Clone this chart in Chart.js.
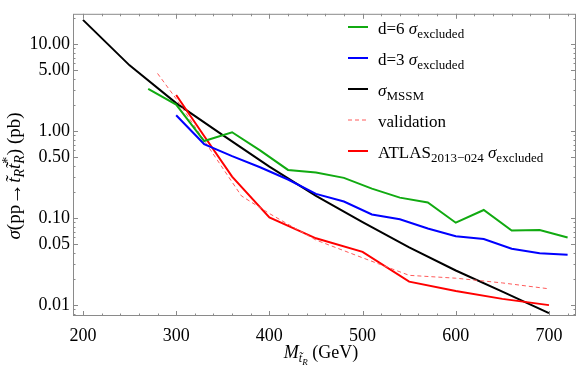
<!DOCTYPE html>
<html>
<head>
<meta charset="utf-8">
<script src="https://cdn.jsdelivr.net/npm/chart.js@4.4.1/dist/chart.umd.min.js"></script>
<style>
  html, body { margin: 0; padding: 0; background: #fff; }
  #wrap { width: 581px; height: 375px; }
</style>
</head>
<body>
<div id="wrap"><canvas id="chart"></canvas></div>
<script>
// stop mass (GeV) and cross sections (pb)
const d6Mass = [270, 300, 330, 360, 390, 420, 450, 480, 510, 540, 570, 600, 630, 660, 690, 720];
const d6Xsec = [3.05, 2.02, 0.77, 0.97, 0.6, 0.358, 0.334, 0.29, 0.218, 0.172, 0.151, 0.0886, 0.124, 0.072, 0.073, 0.06];

const d3Mass = [300, 330, 360, 390, 420, 450, 480, 510, 540, 570, 600, 630, 660, 690, 720];
const d3Xsec = [1.52, 0.71, 0.515, 0.384, 0.278, 0.19, 0.155, 0.11, 0.097, 0.076, 0.062, 0.0576, 0.0445, 0.0394, 0.038];

const mssmMass = [200, 250, 300, 350, 400, 450, 500, 550, 600, 650, 700];
const mssmXsec = [19.0, 5.7, 2.1, 0.9, 0.39, 0.18, 0.09, 0.046, 0.025, 0.0143, 0.0081];

const valMass = [280, 300, 330, 370, 400, 420, 450, 500, 550, 600, 650, 700];
const valXsec = [4.6, 2.35, 0.78, 0.18, 0.113, 0.085, 0.056, 0.035, 0.022, 0.0204, 0.018, 0.0154];

const atlasMass = [300, 330, 360, 400, 450, 500, 550, 600, 650, 700];
const atlasXsec = [2.6, 0.88, 0.30, 0.102, 0.0586, 0.041, 0.0186, 0.0145, 0.0118, 0.01];

const xTicks = [200, 300, 400, 500, 600, 700];
const yTicks = [0.01, 0.05, 0.1, 0.5, 1, 5, 10];

const SERIF = "'Liberation Serif', 'Times New Roman', serif";
const rm = s => s + "px " + SERIF;
const it = s => "italic " + s + "px " + SERIF;

const GREEN = "rgb(17,170,17)";
const BLUE = "rgb(0,0,255)";
const RED = "rgb(255,0,0)";
const PINK = "rgb(255,90,90)";

function pts(xs, ys) {
    return xs.map((x, i) => ({ x: x, y: ys[i] }));
}

function series(label, xs, ys, color, width, dash) {
    return {
        label: label,
        data: pts(xs, ys),
        borderColor: color,
        borderWidth: width,
        borderDash: dash || [],
        pointRadius: 0,
        tension: 0,
        fill: false
    };
}

// draws a run of text pieces (for sub/superscripts)
function drawParts(ctx, x, y, parts, measureOnly) {
    let start = x;
    parts.forEach(p => {
        ctx.font = p.f;
        if (!measureOnly) ctx.fillText(p.t, x, y + (p.dy || 0));
        if (!p.stay) x += ctx.measureText(p.t).width;
    });
    return x - start;
}

const legendRows = [
    { color: GREEN, width: 2, dash: [], parts: [
        { t: "d=6 ", f: rm(17) }, { t: "σ", f: it(17) }, { t: "excluded", f: rm(13), dy: 4 }] },
    { color: BLUE, width: 2, dash: [], parts: [
        { t: "d=3 ", f: rm(17) }, { t: "σ", f: it(17) }, { t: "excluded", f: rm(13), dy: 4 }] },
    { color: "#000", width: 2, dash: [], parts: [
        { t: "σ", f: it(17) }, { t: "MSSM", f: rm(13), dy: 4 }] },
    { color: PINK, width: 1, dash: [4, 3], parts: [
        { t: "validation", f: rm(17) }] },
    { color: RED, width: 2, dash: [], parts: [
        { t: "ATLAS", f: rm(17) }, { t: "2013−024", f: rm(13), dy: 4 }, { t: " σ", f: it(17) },
        { t: "excluded", f: rm(13), dy: 4 }] }
];

const decorPlugin = {
    id: "decor",
    afterDraw(chart) {
        const ctx = chart.ctx;
        const a = chart.chartArea;
        const xs = chart.scales.x, ys = chart.scales.y;
        ctx.save();

        // frame with inward ticks
        ctx.strokeStyle = "#8a8a8a";
        ctx.lineWidth = 1;
        ctx.strokeRect(a.left + 0.5, a.top + 0.5, a.right - a.left - 1, a.bottom - a.top - 1);
        ctx.beginPath();
        for (let v = 200; v <= 720; v += 20) {
            const px = Math.round(xs.getPixelForValue(v)) + 0.5;
            const len = v % 100 === 0 ? 5 : 2.5;
            ctx.moveTo(px, a.bottom); ctx.lineTo(px, a.bottom - len);
            ctx.moveTo(px, a.top); ctx.lineTo(px, a.top + len);
        }
        for (let n = -3; n <= 1; n++) {
            for (let k = 1; k <= 9; k++) {
                const v = k * Math.pow(10, n);
                if (v < ys.min || v > ys.max) continue;
                const py = Math.round(ys.getPixelForValue(v)) + 0.5;
                const len = (k === 1 || k === 5) ? 5 : 2.5;
                ctx.moveTo(a.left, py); ctx.lineTo(a.left + len, py);
                ctx.moveTo(a.right, py); ctx.lineTo(a.right - len, py);
            }
        }
        ctx.stroke();

        // legend
        ctx.fillStyle = "#000";
        ctx.textBaseline = "alphabetic";
        legendRows.forEach((row, i) => {
            const ly = 27 + i * 31;
            ctx.beginPath();
            ctx.strokeStyle = row.color;
            ctx.lineWidth = row.width;
            ctx.setLineDash(row.dash);
            ctx.moveTo(348, ly); ctx.lineTo(368, ly);
            ctx.stroke();
            ctx.setLineDash([]);
            drawParts(ctx, 378, ly + 6.5, row.parts);
        });

        // axis titles
        const tt = "t\u0303";
        const yTitle = [
            { t: "σ", f: it(19) }, { t: "(pp", f: rm(19) }, { t: "→", f: rm(22), dy: 1 }, { t: tt, f: it(19) },
            { t: "R", f: it(14), dy: 4 }, { t: tt, f: it(19) },
            { t: "*", f: rm(14), dy: -8, stay: true }, { t: "R", f: it(14), dy: 4 },
            { t: ") (pb)", f: rm(19) }
        ];
        ctx.save();
        ctx.translate(14, 176);
        ctx.rotate(-Math.PI / 2);
        const wy = drawParts(ctx, 0, 0, yTitle, true);
        drawParts(ctx, -wy / 2, 6, yTitle);
        ctx.restore();

        const xTitle = [
            { t: "M", f: it(18) }, { t: tt, f: it(12), dy: 4 }, { t: "R", f: it(9), dy: 7 },
            { t: " (GeV)", f: rm(18) }
        ];
        const wx = drawParts(ctx, 0, 0, xTitle, true);
        drawParts(ctx, 321 - wx / 2, 358, xTitle);

        ctx.restore();
    }
};

new Chart(document.getElementById("chart"), {
    type: "line",
    data: {
        datasets: [
            series("d=6", d6Mass, d6Xsec, GREEN, 2),
            series("d=3", d3Mass, d3Xsec, BLUE, 2),
            series("validation", valMass, valXsec, PINK, 1, [4, 3]),
            series("ATLAS", atlasMass, atlasXsec, RED, 2),
            series("MSSM", mssmMass, mssmXsec, "#000", 2)
        ]
    },
    options: {
        responsive: true,
        maintainAspectRatio: false,
        animation: false,
        devicePixelRatio: 1,
        layout: { padding: { top: 7, right: 5, left: 0, bottom: 0 } },
        plugins: { legend: { display: false }, tooltip: { enabled: false } },
        scales: {
            x: {
                type: "linear",
                min: 189.3,
                max: 729,
                grid: { display: false, drawTicks: false },
                border: { display: false },
                ticks: { font: { family: SERIF, size: 18 }, color: "#000", padding: 9, maxRotation: 0, autoSkip: false },
                afterBuildTicks: s => { s.ticks = xTicks.map(v => ({ value: v })); },
                afterFit: s => { s.height = 59; }
            },
            y: {
                type: "logarithmic",
                min: 0.0075,
                max: 22.3,
                grid: { display: false, drawTicks: false },
                border: { display: false },
                ticks: { font: { family: SERIF, size: 18 }, color: "#000", padding: 3, autoSkip: false,
                    callback: v => Number(v).toFixed(2) },
                afterBuildTicks: s => { s.ticks = yTicks.map(v => ({ value: v })); },
                afterFit: s => { s.width = 73; }
            }
        }
    },
    plugins: [decorPlugin]
});
</script>
</body>
</html>
